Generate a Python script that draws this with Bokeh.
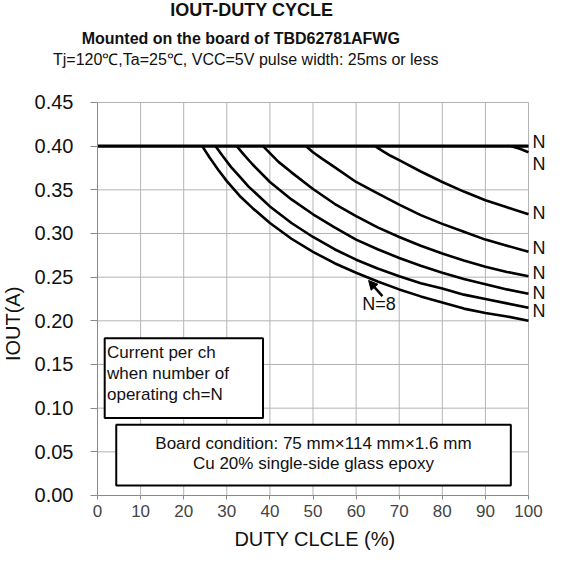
import math
from bokeh.plotting import figure
from bokeh.models import Range1d, FixedTicker, Label, BoxAnnotation, Arrow, NormalHead
from bokeh.embed import file_html
from bokeh.resources import INLINE

# ---- data ----
x_ticks = [0, 10, 20, 30, 40, 50, 60, 70, 80, 90, 100]
y_ticks = [0.00, 0.05, 0.10, 0.15, 0.20, 0.25, 0.30, 0.35, 0.40, 0.45]
y_tick_labels = ["0.00", "0.05", "0.10", "0.15", "0.20", "0.25", "0.30", "0.35", "0.40", "0.45"]

duty_n1 = [0, 100]
iout_n1 = [0.400, 0.400]
duty_n2 = [96, 98, 100]
iout_n2 = [0.400, 0.397, 0.393]
duty_n3 = [64.4, 66, 68, 70, 75, 80, 85, 90, 95, 100]
iout_n3 = [0.400, 0.395, 0.389, 0.384, 0.371, 0.359, 0.348, 0.338, 0.330, 0.322]
duty_n4 = [48.4, 50, 52, 55, 60, 65, 70, 75, 80, 85, 90, 95, 100]
iout_n4 = [0.400, 0.393, 0.386, 0.376, 0.359, 0.346, 0.333, 0.321, 0.311, 0.302, 0.293, 0.286, 0.279]
duty_n5 = [38.4, 40, 42, 45, 50, 55, 60, 65, 70, 75, 80, 85, 90, 95, 100]
iout_n5 = [0.400, 0.392, 0.382, 0.370, 0.351, 0.334, 0.320, 0.307, 0.296, 0.286, 0.277, 0.269, 0.262, 0.256, 0.251]
duty_n6 = [32.3, 34, 36, 40, 45, 50, 55, 60, 65, 70, 75, 80, 85, 90, 95, 100]
iout_n6 = [0.400, 0.390, 0.379, 0.359, 0.339, 0.322, 0.307, 0.293, 0.282, 0.272, 0.263, 0.255, 0.248, 0.242, 0.236, 0.231]
duty_n7 = [27.4, 29, 31, 33, 35, 40, 45, 50, 55, 60, 65, 70, 75, 80, 85, 90, 95, 100]
iout_n7 = [0.400, 0.389, 0.376, 0.365, 0.354, 0.331, 0.312, 0.296, 0.282, 0.270, 0.260, 0.251, 0.243, 0.237, 0.230, 0.225, 0.220, 0.215]
duty_n8 = [24.3, 26, 28, 30, 33, 36, 40, 45, 50, 55, 60, 65, 70, 75, 80, 85, 90, 95, 100]
iout_n8 = [0.400, 0.387, 0.373, 0.360, 0.343, 0.329, 0.312, 0.294, 0.279, 0.266, 0.255, 0.245, 0.236, 0.228, 0.221, 0.214, 0.209, 0.205, 0.200]

# y positions of the right-hand "N" labels (curves N=1..7)
n_label_y = [0.405, 0.380, 0.323, 0.283, 0.255, 0.232, 0.211]

FONT = "Liberation Sans"
X_MAX, Y_MAX = 100, 0.45

# the frame covers the whole canvas; axes are pinned at x=0 / y=0
p = figure(width=546, height=550, output_backend="svg", toolbar_location=None, title=None,
           x_range=Range1d(-22.506, 104.176), y_range=Range1d(-0.06298, 0.56679),
           min_border=0)
p.outline_line_color = None
p.background_fill_color = "white"
p.border_fill_color = "white"
p.grid.visible = False

# grid lines over the chart area, including its outer edges
p.segment(x0=x_ticks, y0=[0] * len(x_ticks), x1=x_ticks, y1=[Y_MAX] * len(x_ticks),
          line_color="#b4b4b4", line_width=1)
p.segment(x0=[0] * len(y_ticks), y0=y_ticks, x1=[X_MAX] * len(y_ticks), y1=y_ticks,
          line_color="#b4b4b4", line_width=1)

# titles
for txt, xv, yv, size, style in [
        ("IOUT-DUTY CYCLE", 35.8, 0.5563, "18px", "bold"),
        ("Mounted on the board of TBD62781AFWG", 33.25, 0.5232, "16px", "bold"),
        ("Tj=120\u2103,Ta=25\u2103, VCC=5V pulse width: 25ms or less", 34.4, 0.4991, "16px", "normal")]:
    p.add_layout(Label(x=xv, y=yv, text=txt, text_align="center", text_baseline="middle",
                       text_font=FONT, text_font_size=size, text_font_style=style,
                       text_color="#111111"))

# axes
xa = p.xaxis[0]
ya = p.yaxis[0]
for ax in (xa, ya):
    ax.fixed_location = 0
    ax.axis_line_color = "#8a8a8a"
    ax.major_tick_line_color = "#8a8a8a"
    ax.minor_tick_line_color = None
    ax.major_tick_in = 0
    ax.major_label_text_font = FONT
xa.bounds = (0, X_MAX)
ya.bounds = (0, Y_MAX)
xa.ticker = FixedTicker(ticks=x_ticks)
ya.ticker = FixedTicker(ticks=y_ticks)
ya.major_label_overrides = {t: s for t, s in zip(y_ticks, y_tick_labels)}
xa.major_tick_out = 4
ya.major_tick_out = 7
xa.major_label_text_font_size = "17px"
xa.major_label_text_color = "#444444"
ya.major_label_text_font_size = "20px"
ya.major_label_text_color = "#111111"
xa.major_label_standoff = 6
ya.major_label_standoff = 17

# axis titles
p.add_layout(Label(x=50.46, y=-0.0495, text="DUTY CLCLE (%)", text_align="center",
                   text_baseline="middle", text_font=FONT, text_font_size="20px",
                   text_color="#111111"))
p.add_layout(Label(x=-19.56, y=0.1965, text="IOUT(A)", angle=math.pi / 2, text_align="center",
                   text_baseline="middle", text_font=FONT, text_font_size="20px",
                   text_color="#111111"))

# curves
p.line(duty_n1, iout_n1, line_color="black", line_width=3.3)
for dx, iy in [(duty_n2, iout_n2), (duty_n3, iout_n3), (duty_n4, iout_n4), (duty_n5, iout_n5),
               (duty_n6, iout_n6), (duty_n7, iout_n7), (duty_n8, iout_n8)]:
    p.line(dx, iy, line_color="black", line_width=2.6, line_join="round")

# N labels at the right end of curves N=1..7
for yv in n_label_y:
    p.add_layout(Label(x=X_MAX, y=yv, x_offset=4, text="N", text_baseline="middle",
                       text_font=FONT, text_font_size="18px", text_color="#111111"))

# N=8 arrow and label
p.add_layout(Arrow(end=NormalHead(size=9, fill_color="black", line_color="black"),
                   x_start=66.1, y_start=0.2283, x_end=62.9, y_end=0.2462,
                   line_color="black", line_width=2.5))
p.add_layout(Label(x=65.3, y=0.2188, text="N=8", text_align="center", text_baseline="middle",
                   text_font=FONT, text_font_size="18px", text_color="#111111"))

# boxes
p.add_layout(BoxAnnotation(left=1.67, right=38.4, top=0.180, bottom=0.0887,
                           fill_color="white", fill_alpha=1, line_color="black",
                           line_alpha=1, line_width=2))
p.add_layout(BoxAnnotation(left=4.35, right=95.9, top=0.081, bottom=0.0114,
                           fill_color="white", fill_alpha=1, line_color="black",
                           line_alpha=1, line_width=2))
for txt, yv in [("Current per ch", 0.1636), ("when number of", 0.1396), ("operating ch=N", 0.1153)]:
    p.add_layout(Label(x=2.2, y=yv, text=txt, text_baseline="middle", text_font=FONT,
                       text_font_size="17px", text_color="#111111"))
for txt, yv in [("Board condition: 75 mm\u00d7114 mm\u00d71.6 mm", 0.0597),
                ("Cu 20% single-side glass epoxy", 0.0369)]:
    p.add_layout(Label(x=50.1, y=yv, text=txt, text_align="center", text_baseline="middle",
                       text_font=FONT, text_font_size="17px", text_color="#111111"))

open("out.html", "w").write(file_html(p, INLINE))
